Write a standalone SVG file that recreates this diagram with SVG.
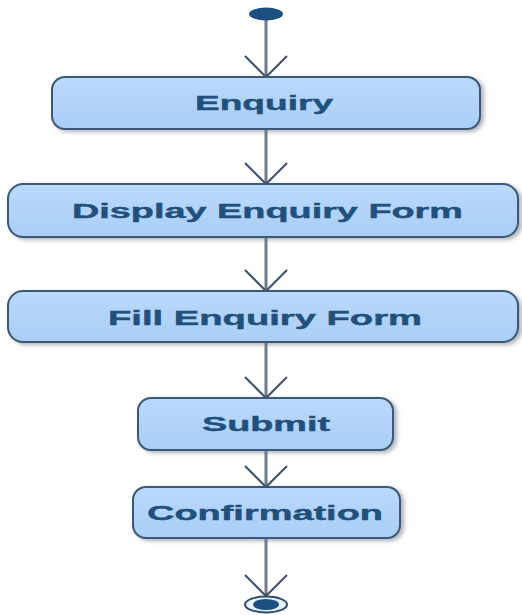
<svg xmlns="http://www.w3.org/2000/svg" width="522" height="615" viewBox="0 0 522 615">
<style>
.box{fill:url(#g);stroke:#3b5877;stroke-width:2;filter:url(#sh)}
.lbl{font-family:"Liberation Sans",Arial,sans-serif;font-weight:bold;font-size:20px;fill:#21507d;stroke:#21507d;stroke-width:0.4}
.edge{stroke:#6f7a86;stroke-width:3;fill:none;marker-end:url(#ah)}
</style>
<defs>
<linearGradient id="g" x1="0" y1="0" x2="0" y2="1">
<stop offset="0" stop-color="#bad9fc"/>
<stop offset="1" stop-color="#aacef5"/>
</linearGradient>
<filter id="sh" x="-5%" y="-20%" width="115%" height="150%">
<feDropShadow dx="3" dy="2" stdDeviation="2" flood-color="#6a7480" flood-opacity="0.55"/>
</filter>
<marker id="ah" viewBox="-24 -24 27 48" refX="0" refY="0" markerWidth="27" markerHeight="48" markerUnits="userSpaceOnUse" orient="auto">
<path d="M-21,-21 L0,0 L-21,21" fill="none" stroke="#3d5068" stroke-width="2"/>
</marker>
</defs>
<g id="connectors">
<line class="edge" x1="266" y1="20" x2="266" y2="77"/>
<line class="edge" x1="266" y1="129" x2="266" y2="184"/>
<line class="edge" x1="266" y1="237" x2="266" y2="291"/>
<line class="edge" x1="266" y1="342" x2="266" y2="398"/>
<line class="edge" x1="266" y1="450" x2="266" y2="487"/>
<line class="edge" x1="266" y1="538" x2="266" y2="596"/>
</g>
<g id="start">
<ellipse cx="266" cy="14" rx="17" ry="6.5" fill="#1a4f80"/>
</g>
<g id="enquiry">
<rect class="box" x="52" y="77" width="428" height="52" rx="13"/>
<text class="lbl" x="195" y="110" textLength="138" lengthAdjust="spacingAndGlyphs">Enquiry</text>
</g>
<g id="display">
<rect class="box" x="8" y="184" width="510" height="53" rx="15"/>
<text class="lbl" x="72" y="218" textLength="391" lengthAdjust="spacingAndGlyphs">Display Enquiry Form</text>
</g>
<g id="fill">
<rect class="box" x="8" y="291" width="510" height="51" rx="15"/>
<text class="lbl" x="108" y="325" textLength="314" lengthAdjust="spacingAndGlyphs">Fill Enquiry Form</text>
</g>
<g id="submit">
<rect class="box" x="138" y="398" width="255" height="52" rx="13"/>
<text class="lbl" x="202" y="431" textLength="128" lengthAdjust="spacingAndGlyphs">Submit</text>
</g>
<g id="confirmation">
<rect class="box" x="133" y="487" width="267" height="51" rx="13"/>
<text class="lbl" x="147" y="520" textLength="236" lengthAdjust="spacingAndGlyphs">Confirmation</text>
</g>
<g id="end">
<ellipse cx="266" cy="604.5" rx="21" ry="8" fill="#e8f2fc" stroke="#2d4c6e" stroke-width="2"/>
<ellipse cx="266" cy="604.5" rx="13" ry="5.5" fill="#1a4f80"/>
</g>
</svg>
